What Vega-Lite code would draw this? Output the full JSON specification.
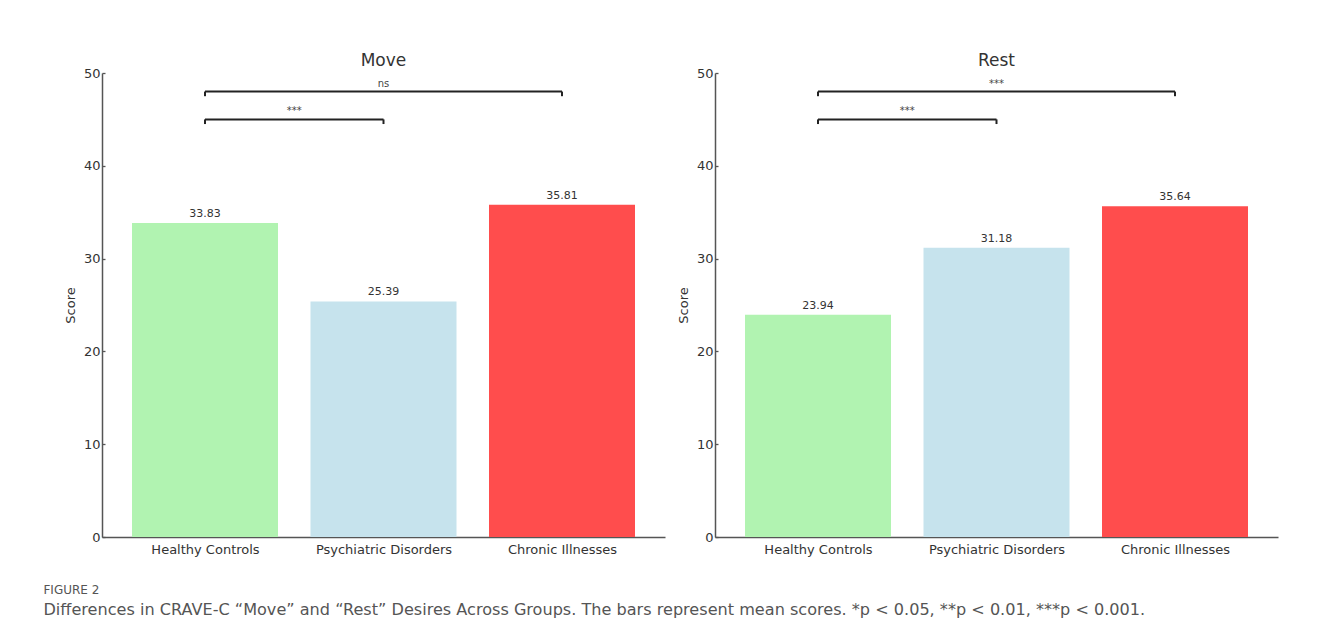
{
  "$schema": "https://vega.github.io/schema/vega-lite/v6.json",
  "padding": {"left": 43, "top": 52, "right": 5, "bottom": 5},
  "background": "white",
  "config": {
    "view": {"stroke": null},
    "font": "DejaVu Sans",
    "axis": {"grid": false, "domainColor": "#555", "domainWidth": 1.5, "tickColor": "#555", "tickWidth": 1.3, "labelColor": "#333", "labelFont": "DejaVu Sans", "labelFontSize": 13, "titleFont": "DejaVu Sans", "titleFontWeight": "normal", "titleColor": "#333", "titleFontSize": 13}
  },
  "datasets": {
    "bars": [
      {"panel": "Move", "group": "Healthy Controls", "pos": 0, "score": 33.83},
      {"panel": "Move", "group": "Psychiatric Disorders", "pos": 1, "score": 25.39},
      {"panel": "Move", "group": "Chronic Illnesses", "pos": 2, "score": 35.81},
      {"panel": "Rest", "group": "Healthy Controls", "pos": 0, "score": 23.94},
      {"panel": "Rest", "group": "Psychiatric Disorders", "pos": 1, "score": 31.18},
      {"panel": "Rest", "group": "Chronic Illnesses", "pos": 2, "score": 35.64}
    ],
    "brackets": [
      {"panel": "Move", "x1": 0, "x2": 1, "xm": 0.5, "y": 45, "ylow": 44.5, "label": "***"},
      {"panel": "Move", "x1": 0, "x2": 2, "xm": 1, "y": 48, "ylow": 47.5, "label": "ns"},
      {"panel": "Rest", "x1": 0, "x2": 1, "xm": 0.5, "y": 45, "ylow": 44.5, "label": "***"},
      {"panel": "Rest", "x1": 0, "x2": 2, "xm": 1, "y": 48, "ylow": 47.5, "label": "***"}
    ]
  },
  "title": {
    "text": "FIGURE 2",
    "subtitle": "Differences in CRAVE-C “Move” and “Rest” Desires Across Groups. The bars represent mean scores. *p < 0.05, **p < 0.01, ***p < 0.001.",
    "orient": "bottom",
    "anchor": "start",
    "frame": "bounds",
    "dx": -21,
    "font": "DejaVu Sans",
    "fontSize": 12,
    "fontWeight": "normal",
    "color": "#555",
    "subtitleFont": "DejaVu Sans",
    "subtitleFontSize": 16.1,
    "subtitleColor": "#555",
    "subtitlePadding": 5,
    "offset": 29
  },
  "spacing": 12,
  "hconcat": [
    {
      "width": 563,
      "height": 464,
      "title": {"text": "Move", "fontSize": 17, "fontWeight": "normal", "color": "#333", "font": "DejaVu Sans", "offset": -3, "anchor": "middle", "frame": "group"},
      "layer": [
        {
          "data": {"name": "bars"},
          "transform": [{"filter": "datum.panel === 'Move'"}],
          "mark": {"type": "bar", "width": 146},
          "encoding": {
            "x": {"field": "pos", "type": "quantitative", "scale": {"domain": [-0.549, 2.549], "nice": false, "zero": false}, "axis": {"title": null, "values": [0, 1, 2], "labelExpr": "['Healthy Controls','Psychiatric Disorders','Chronic Illnesses'][datum.value]", "tickSize": -3, "labelPadding": 9}},
            "y": {"field": "score", "type": "quantitative", "scale": {"domain": [0, 50], "nice": false}, "axis": {"title": "Score", "values": [0, 10, 20, 30, 40, 50], "tickSize": -3, "labelPadding": 5, "titlePadding": 6}},
            "color": {"field": "group", "type": "nominal", "scale": {"domain": ["Healthy Controls", "Psychiatric Disorders", "Chronic Illnesses"], "range": ["#b1f3b1", "#c6e3ed", "#ff4d4d"]}, "legend": null}
          }
        },
        {
          "data": {"name": "bars"},
          "transform": [{"filter": "datum.panel === 'Move'"}],
          "mark": {"type": "text", "baseline": "bottom", "dy": -4, "fontSize": 11, "color": "#333", "font": "DejaVu Sans"},
          "encoding": {
            "x": {"field": "pos", "type": "quantitative"},
            "y": {"field": "score", "type": "quantitative"},
            "text": {"field": "score", "type": "quantitative", "format": ".2f"}
          }
        },
        {
          "data": {"name": "brackets"},
          "transform": [{"filter": "datum.panel === 'Move'"}],
          "mark": {"type": "rule", "color": "#222", "strokeWidth": 2},
          "encoding": {
            "x": {"field": "x1", "type": "quantitative"},
            "x2": {"field": "x2"},
            "y": {"field": "y", "type": "quantitative"}
          }
        },
        {
          "data": {"name": "brackets"},
          "transform": [{"filter": "datum.panel === 'Move'"}],
          "mark": {"type": "rule", "color": "#222", "strokeWidth": 2},
          "encoding": {
            "x": {"field": "x1", "type": "quantitative"},
            "y": {"field": "y", "type": "quantitative"},
            "y2": {"field": "ylow"}
          }
        },
        {
          "data": {"name": "brackets"},
          "transform": [{"filter": "datum.panel === 'Move'"}],
          "mark": {"type": "rule", "color": "#222", "strokeWidth": 2},
          "encoding": {
            "x": {"field": "x2", "type": "quantitative"},
            "y": {"field": "y", "type": "quantitative"},
            "y2": {"field": "ylow"}
          }
        },
        {
          "data": {"name": "brackets"},
          "transform": [{"filter": "datum.panel === 'Move'"}],
          "mark": {"type": "text", "baseline": "bottom", "dy": -3, "fontSize": 10, "color": "#444", "font": "DejaVu Sans"},
          "encoding": {
            "x": {"field": "xm", "type": "quantitative"},
            "y": {"field": "y", "type": "quantitative"},
            "text": {"field": "label"}
          }
        }
      ]
    },
    {
      "width": 563,
      "height": 464,
      "title": {"text": "Rest", "fontSize": 17, "fontWeight": "normal", "color": "#333", "font": "DejaVu Sans", "offset": -3, "anchor": "middle", "frame": "group"},
      "layer": [
        {
          "data": {"name": "bars"},
          "transform": [{"filter": "datum.panel === 'Rest'"}],
          "mark": {"type": "bar", "width": 146},
          "encoding": {
            "x": {"field": "pos", "type": "quantitative", "scale": {"domain": [-0.549, 2.549], "nice": false, "zero": false}, "axis": {"title": null, "values": [0, 1, 2], "labelExpr": "['Healthy Controls','Psychiatric Disorders','Chronic Illnesses'][datum.value]", "tickSize": -3, "labelPadding": 9}},
            "y": {"field": "score", "type": "quantitative", "scale": {"domain": [0, 50], "nice": false}, "axis": {"title": "Score", "values": [0, 10, 20, 30, 40, 50], "tickSize": -3, "labelPadding": 5, "titlePadding": 6}},
            "color": {"field": "group", "type": "nominal", "scale": {"domain": ["Healthy Controls", "Psychiatric Disorders", "Chronic Illnesses"], "range": ["#b1f3b1", "#c6e3ed", "#ff4d4d"]}, "legend": null}
          }
        },
        {
          "data": {"name": "bars"},
          "transform": [{"filter": "datum.panel === 'Rest'"}],
          "mark": {"type": "text", "baseline": "bottom", "dy": -4, "fontSize": 11, "color": "#333", "font": "DejaVu Sans"},
          "encoding": {
            "x": {"field": "pos", "type": "quantitative"},
            "y": {"field": "score", "type": "quantitative"},
            "text": {"field": "score", "type": "quantitative", "format": ".2f"}
          }
        },
        {
          "data": {"name": "brackets"},
          "transform": [{"filter": "datum.panel === 'Rest'"}],
          "mark": {"type": "rule", "color": "#222", "strokeWidth": 2},
          "encoding": {
            "x": {"field": "x1", "type": "quantitative"},
            "x2": {"field": "x2"},
            "y": {"field": "y", "type": "quantitative"}
          }
        },
        {
          "data": {"name": "brackets"},
          "transform": [{"filter": "datum.panel === 'Rest'"}],
          "mark": {"type": "rule", "color": "#222", "strokeWidth": 2},
          "encoding": {
            "x": {"field": "x1", "type": "quantitative"},
            "y": {"field": "y", "type": "quantitative"},
            "y2": {"field": "ylow"}
          }
        },
        {
          "data": {"name": "brackets"},
          "transform": [{"filter": "datum.panel === 'Rest'"}],
          "mark": {"type": "rule", "color": "#222", "strokeWidth": 2},
          "encoding": {
            "x": {"field": "x2", "type": "quantitative"},
            "y": {"field": "y", "type": "quantitative"},
            "y2": {"field": "ylow"}
          }
        },
        {
          "data": {"name": "brackets"},
          "transform": [{"filter": "datum.panel === 'Rest'"}],
          "mark": {"type": "text", "baseline": "bottom", "dy": -3, "fontSize": 10, "color": "#444", "font": "DejaVu Sans"},
          "encoding": {
            "x": {"field": "xm", "type": "quantitative"},
            "y": {"field": "y", "type": "quantitative"},
            "text": {"field": "label"}
          }
        }
      ]
    }
  ]
}
